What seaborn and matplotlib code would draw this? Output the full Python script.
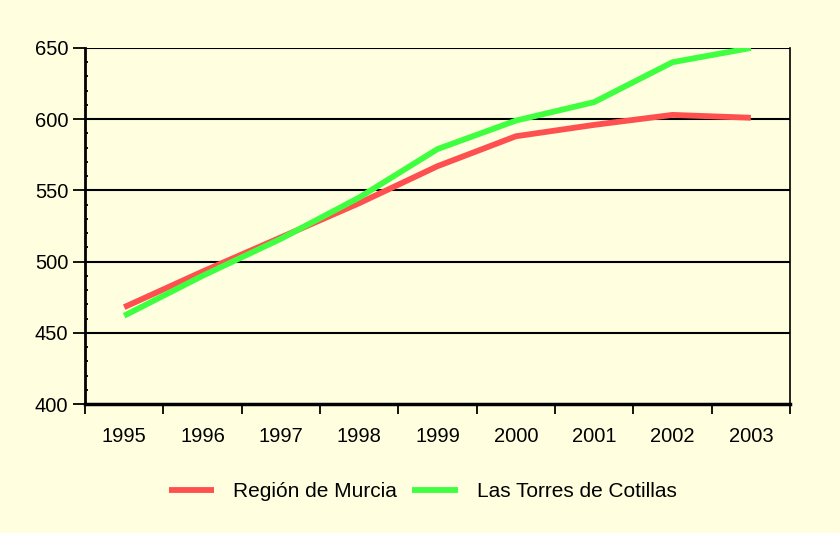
import pandas as pd
import seaborn as sns
import matplotlib.pyplot as plt
from matplotlib.ticker import MultipleLocator

# datos
years = ["1995", "1996", "1997", "1998", "1999", "2000", "2001", "2002", "2003"]
murcia = [468, 493, 517, 541, 567, 588, 596, 603, 601]
torres = [462, 490, 516, 545, 579, 599, 612, 640, 650]

df = pd.DataFrame({
    "pos": list(range(len(years))) * 2,
    "valor": murcia + torres,
    "serie": ["Región de Murcia"] * len(years) + ["Las Torres de Cotillas"] * len(years),
})

sns.set_style("white")
plt.rcParams["font.family"] = ["Liberation Sans", "DejaVu Sans"]
plt.rcParams["text.color"] = "black"
plt.rcParams["xtick.color"] = "black"
plt.rcParams["ytick.color"] = "black"
plt.rcParams["lines.solid_capstyle"] = "butt"

bg = "#FFFFE0"
fig = plt.figure(figsize=(8.4, 5.33), dpi=100, facecolor=bg)
ax = fig.add_axes([0.1012, 0.242, 0.8393, 0.668], facecolor=bg)

sns.lineplot(data=df, x="pos", y="valor", hue="serie",
             palette={"Región de Murcia": "#FF5050", "Las Torres de Cotillas": "#40FF40"},
             linewidth=4.2, ax=ax)

ax.set_xlim(-0.5, len(years) - 0.5)
ax.set_ylim(400, 650)

# lineas horizontales
for v in [450, 500, 550, 600, 650]:
    ax.axhline(v, color="black", linewidth=1.5, zorder=0)

ax.yaxis.set_major_locator(MultipleLocator(50))
ax.yaxis.set_minor_locator(MultipleLocator(10))
ax.tick_params(axis="y", which="major", left=True, direction="out", length=9, width=1.3, labelsize=14.5, pad=3)
ax.tick_params(axis="y", which="minor", left=True, direction="in", length=2, width=1.3)

# ticks entre categorias, etiquetas centradas
ax.set_xticks([i - 0.5 for i in range(len(years) + 1)])
ax.set_xticklabels([""] * (len(years) + 1))
ax.set_xticks(range(len(years)), minor=True)
ax.set_xticklabels(years, minor=True)
ax.tick_params(axis="x", which="major", bottom=True, direction="out", length=7, width=1.3)
ax.tick_params(axis="x", which="minor", bottom=True, length=0, labelsize=14.5, pad=16.5)

ax.spines["top"].set_visible(False)
ax.spines["left"].set_linewidth(2)
ax.spines["bottom"].set_linewidth(2.5)
ax.spines["right"].set_linewidth(1.2)
for s in ["left", "bottom", "right"]:
    ax.spines[s].set_color("black")

ax.set_xlabel("")
ax.set_ylabel("")

handles, labels = ax.get_legend_handles_labels()
ax.legend(handles, labels, loc="center", bbox_to_anchor=(0.503, 0.077), bbox_transform=fig.transFigure,
          ncol=2, frameon=False, fontsize=15, handlelength=2.2, handletextpad=0.9, columnspacing=0.72)

fig.savefig("out.png", dpi=100, facecolor=bg)
